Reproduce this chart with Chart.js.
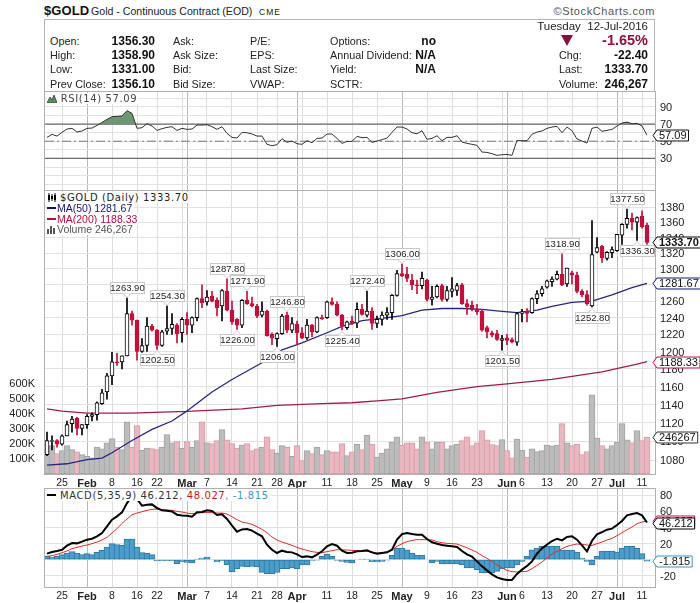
<!DOCTYPE html>
<html>
<head>
<meta charset="utf-8">
<title>$GOLD</title>
<script src="https://cdn.jsdelivr.net/npm/chart.js@4/dist/chart.umd.min.js"></script>
<style>
  html, body { margin: 0; padding: 0; background: #fff; }
  #page { position: relative; width: 700px; height: 603px; overflow: hidden; font-family: "Liberation Sans", Arial, sans-serif; color: #222; }
  canvas { position: absolute; left: 0; }
  .t { position: absolute; white-space: nowrap; font-size: 10.8px; line-height: 14px; z-index: 3; }
  .b { font-weight: bold; font-size: 12px; color: #111; }
  .r { text-align: right; }
  #box { position: absolute; left: 44px; top: 19px; width: 611px; height: 72px; border: 1px solid #b5b5b5; border-bottom: none; box-sizing: border-box; }
  .lg { position: absolute; white-space: nowrap; font: 10px/11px "DejaVu Sans", sans-serif; letter-spacing: .6px; background: #fff; z-index: 3; color: #333; }
  .nar { font: 10.5px/11px "Liberation Sans", Arial, sans-serif; letter-spacing: 0; }
  .dash { display: inline-block; width: 9px; height: 2px; margin-right: 1px; vertical-align: 3px; }
</style>
</head>
<body>
<div id="page">
  <div class="t" style="left:44px;top:3px;font-size:13px;font-weight:bold;line-height:15px;letter-spacing:.1px;color:#111">$GOLD</div>
  <div class="t" style="left:91px;top:4px;font-size:10.6px">Gold - Continuous Contract (EOD)</div>
  <div class="t" style="left:259px;top:5px;font-size:8.5px;letter-spacing:1px">CME</div>
  <div class="t" style="right:45px;top:4px;letter-spacing:.6px;color:#555;font-size:11px">&copy;StockCharts.com</div>
  <div id="box"></div>
  <div id="head"></div>

  <canvas id="rsi" width="700" height="115" style="top:80px"></canvas>
  <canvas id="price" width="700" height="320" style="top:180px"></canvas>
  <canvas id="macd" width="700" height="123" style="top:480px"></canvas>

  <div class="lg" style="left:47px;top:93px;padding-right:2px;color:#444"><svg width="10" height="9" style="vertical-align:-1px"><path d="M0 9 L3 3 L5 6 L7 1 L10 9 Z" fill="#5f8a62" stroke="#3c5a3e"/></svg> RSI(14) 57.09</div>
  <div class="lg" style="left:47px;top:192px;padding-right:2px;color:#222"><svg width="10" height="9" style="vertical-align:-1px;margin-right:3px"><path d="M2 0V9M5 1V8M8 0V9" stroke="#000"/><path d="M1 2h2v5H1zM4 3h2v3H4zM7 2h2v5H7z" fill="#000"/></svg>$GOLD (Daily) 1333.70</div>
  <div class="lg nar" style="left:47px;top:203px;padding-right:2px;color:#14146e"><span class="dash" style="background:#14146e"></span>MA(50) 1281.67</div>
  <div class="lg nar" style="left:47px;top:214px;padding-right:2px;color:#b0103c"><span class="dash" style="background:#b0103c"></span>MA(200) 1188.33</div>
  <div class="lg nar" style="left:47px;top:224px;padding-right:2px;color:#555"><svg width="9" height="9" style="vertical-align:-1px;margin-right:1px"><path d="M0 9V4h2v5zM3 9V1h2v8zM6 9V3h2v6z" fill="#555"/></svg>Volume 246,267</div>
  <div class="lg" style="left:47px;top:490px;padding-right:2px"><span class="dash" style="background:#000;margin-right:4px"></span>MACD(5,35,9) 46.212<span style="color:#c8161d">, 48.027</span><span style="color:#3f93bd">, -1.815</span></div>
</div>

<script>
// bars are trading days, Jan 20 .. Jul 12 2016
const opens = [
  1086,1100,1101,1097,1106,1119,1125,1114,1118,1127,
  1129,1141,1154,1172,1188,1188,1195,1245,1237,1200,
  1207,1230,1225,1207,1224,1227,1231,1222,1238,1231,
  1240,1263,1259,1266,1261,1254,1272,1249,1238,1231,
  1261,1257,1254,1243,1248,1220,1215,1221,1243,1225,
  1232,1222,1216,1231,1223,1240,1240,1259,1256,1243,
  1228,1236,1233.5,1250,1243,1248,1233,1238,1243,1246,
  1267,1294,1293,1286,1280,1279,1286,1262,1265,1279,
  1262,1272,1273,1280,1257,1255,1250,1248,1228,1222,
  1221,1213,1216,1214,1211,1245,1248,1246,1263,1269,
  1277,1284,1287,1293,1281,1295,1292,1272,1268,1254,
  1321,1329,1313,1320.5,1323,1343,1357,1365,1360,1368,
  1356.3];
const highs = [
  1110,1106,1102,1107,1122,1127,1126,1118,1129,1131,
  1143,1157,1175,1199,1198,1195,1263.9,1248,1237,1215,
  1240,1232,1226,1225,1254.3,1245,1233,1240,1246,1241,
  1264,1280,1273,1272,1264,1274,1287.8,1260,1239,1262,
  1271.9,1265,1256,1259,1249,1222,1222,1244,1246.8,1240,
  1236,1228,1238,1232,1241,1243,1260,1264,1259,1244,
  1236,1242,1258,1256,1272.4,1252,1242,1247,1252,1268,
  1298,1306,1302,1293,1286,1296,1287,1278,1280,1281,
  1278,1289,1282,1282,1262,1260,1256,1250,1230,1224,
  1225,1219,1220,1216,1246,1250,1251,1264,1273,1278,
  1286,1290,1297,1318.9,1301,1297,1296,1274,1273,1362,
  1340,1330,1322,1328,1344,1358,1377.5,1372,1367,1375,
  1358.9];
const lows = [
  1085,1091,1094,1096,1106,1110,1107,1107,1114,1122,
  1123,1140,1146,1162,1184,1180,1195,1231,1190,1199,
  1200,1224,1202.5,1206,1220,1220,1210,1211,1220,1222,
  1236,1252,1255,1259,1242,1236,1248,1232,1226,1228,
  1256,1253,1240,1241,1218,1208,1206,1220,1222,1222,
  1208,1215,1214,1217,1222,1238,1239,1255,1242,1225.4,
  1226,1232,1228,1243,1241,1226,1228,1231,1238,1238,
  1266,1290,1284,1274,1269,1275,1260,1255,1264,1260,
  1260,1265,1267,1256,1244,1248,1244,1224,1216,1217,
  1213,1201.5,1208,1210,1207,1235,1235,1245,1257,1266,
  1276,1278,1286,1279,1278,1281,1270,1265,1255,1252.8,
  1320,1308,1311,1314,1322,1331,1352,1350,1336.3,1352,
  1331];
const closes = [
  1101,1101,1097,1106,1118,1124,1114,1118,1127,1129,
  1142,1153,1172,1188,1187,1195,1245,1237,1200,1207,
  1230,1225,1207,1223,1227,1232,1221,1238,1231,1240,
  1263,1258,1265,1260,1252,1273,1249,1235,1231,1261,
  1257,1254,1242,1248,1218.5,1216,1221,1242,1225,1233,
  1222,1216,1231,1223,1240,1238.5,1259,1256,1243,1230,
  1235,1233,1250,1244,1248,1233,1238,1243,1246,1267,
  1294,1291,1288,1280,1279,1288,1262,1265,1278,1262,
  1273,1275,1279,1257,1253,1250,1247,1225,1223,1219,
  1214,1215,1213,1211,1245,1247,1245,1263,1269,1275,
  1285,1287,1293,1280,1301,1292,1272,1268,1257,1318,
  1327,1314,1321,1324.5,1344,1357,1365,1360,1366,1354,
  1333.7];
const volumesK = [
  151,189,136,156,189,162,147,129,118,107,
  180,167,207,236,180,162,347,180,322,158,
  173,169,162,180,262,207,216,173,216,178,
  222,347,207,202,222,296,227,202,173,193,
  202,156,167,180,247,162,140,189,178,118,
  189,89,156,136,180,129,156,147,147,202,
  122,147,200,162,260,200,113,140,167,213,
  247,193,207,207,167,247,213,167,213,213,
  167,189,200,222,247,189,207,289,227,196,
  189,229,156,107,233,160,113,167,149,156,
  193,187,193,336,207,189,200,129,149,527,
  240,189,167,189,213,336,227,207,289,222,
  246.267];
const ma50Bars = [0,4,8,11,13,17,21,25,28,33,37,43,47,51,56,59,63,67,71,75,79,83,87,91,94,98,101,105,109,113,117,120];
const ma50 = [1075,1076.5,1080.8,1082.5,1088,1101,1113,1122,1133,1154,1168,1187,1202,1210,1222,1229.5,1236.5,1239,1242.5,1249,1251,1251,1250,1247.5,1246,1249,1253.5,1258.5,1260,1267.5,1276.5,1281.67];
const ma200Bars = [0,3,8,17,23,28,39,46,55,61,66,71,78,86,92,101,111,118,120];
const ma200 = [1135.3,1132.8,1130.6,1130.6,1131.7,1132.4,1135.3,1139,1141,1142,1144,1146.3,1153.5,1160,1163,1168,1176.5,1185.5,1188.33];
const rsiValues = [
  54.5,58,56,60.3,64.2,65,60.7,61.9,65,65.3,
  68.4,71.9,75.4,78.5,78.9,79.3,85.5,82.4,65,65.7,
  70.4,67.7,62.6,64.6,66.1,66.9,62.6,65,63.8,64.2,
  68.8,68.8,69.2,66.9,63.8,66.9,59.1,54.5,53.7,60.3,
  59.9,58.4,56,56,46.4,44.8,46,52.9,48.7,50.2,
  47.1,46.4,50.6,48.3,53.3,53.7,58.4,58.4,53.3,47.5,
  49.8,49.8,55.7,54.1,54.5,48.7,50.2,51.8,53.7,60.3,
  66.5,66.5,64.2,59.9,58.8,62.2,52.2,53.3,56.4,50.6,
  54.5,54.5,56.4,49.1,47.5,46.4,45.2,37.4,37,35.5,
  33.6,34.3,34.7,33.6,51,50.6,50.6,58,60.7,61.9,
  65,66.5,67.3,59.9,66.5,62.2,52.6,50.2,47.9,65,
  66.5,61.5,62.6,63.8,67.7,71.2,72.3,70.4,70.8,67.7,
  57.09];
const macdValues = [
  7.5,9.5,10.8,12.4,17.4,20.7,20.3,22.4,24.9,26.1,
  29,33.2,41.5,49.8,53.9,58.9,70.5,78.8,75.5,67.2,
  68.4,68.8,64.3,61.4,60.9,60.1,56,55.1,54.7,53.5,
  58.9,59.3,61.4,60.5,55.6,56.4,50.6,42.3,34.8,37.7,
  38.1,36.1,32.3,29,18.7,12.4,8.3,11.2,9.5,9.1,
  6.6,3.3,4.1,2.9,6.2,10.4,16.6,19.5,17.4,11.2,
  8.3,8.7,10.4,10.8,11.6,9.1,7.5,8.3,9.1,12.4,
  24.9,31.9,33.2,31.9,31.1,31.1,25.7,21.6,19.9,18.2,
  17.4,16.6,15.8,10.8,6.6,3.7,-2.1,-8.3,-13.3,-18.2,
  -22,-24,-25.3,-25.3,-17.8,-12.4,-7.9,-2.1,7.5,14.1,
  18.7,23.2,26.1,24,28.2,29,24.9,17.8,10.4,23.6,
  31.5,34.4,37.3,38.6,43.1,48.1,55.1,56.8,58,55.1,
  46.212];
const signalValues = [
  4.1,5,6.6,8.7,10.8,13.7,15.3,17,18.2,19.9,
  22,24.5,27.8,33.2,38.6,45.2,50.6,56,58,59.7,
  61.4,62.6,63,62.2,61.8,61.4,60.1,59.3,58,57.2,
  58,58.5,58.9,58.5,58,58,56.8,53.5,49.8,46.9,
  45.6,43.9,41,37.7,33.6,28.2,24.5,22,19.9,17.8,
  15.3,13.3,11.6,10,9.1,8.7,10,11.2,12.4,12.4,
  12,11.6,11.2,10.8,10.4,9.5,8.3,8.7,9.5,12,
  16.6,19.9,22.4,24,24.9,24.9,24.9,24.5,22.4,21.1,
  20.3,19.9,19.5,17,14.9,12,9.1,5,1.7,-2.5,
  -6.6,-10,-13.3,-14.9,-15.3,-14.9,-14.5,-11.2,-7,-2.9,
  2.1,7,10.4,13.7,16.6,18.2,19.5,19.1,18.2,17.8,
  19.9,22,24.5,26.5,29.9,33.6,37.3,40.6,44.8,46.9,
  48.027];
const histValues = [
  4.1,3.3,4.1,6.2,8.3,10,8.3,6.2,7.5,6.2,
  9.1,11.6,15.8,19.9,18.7,17.8,25.7,25.7,15.8,8.7,
  8.3,6.2,-1.7,-1.2,-1.2,-1.2,-5,-2.5,-3.3,-4.1,
  0.8,2.1,3.3,0,-2.9,-1.2,-6.2,-15.3,-11.2,-8.3,
  -9.1,-8.3,-9.1,-15.8,-17.4,-17.4,-15.8,-11.2,-11.2,-10.4,
  -11.2,-6.6,-6.6,-0.8,-0.4,4.1,7,4.1,-0.8,-2.1,
  -3.3,-4.1,0,0.8,0.8,-2.5,-2.9,-2.1,-0.4,5.4,
  14.5,14.5,12.4,8.3,5.8,5.8,0,-4.1,-2.1,-5.4,
  -5.4,-5.4,-5,-6.2,-10.4,-10.4,-12.4,-16.6,-16.6,-16.6,
  -14.5,-11.6,-10.4,-10.4,-6.2,-2.1,4.1,12.4,14.5,16.6,
  16.6,17,17,12,12,12,9.5,2.1,-2.1,-6.6,
  4.1,10.8,10.8,10.8,9.5,14.5,17,16.6,14.1,7.5,
  -1.815];

// x axis: bar index of each grid line, with its label
const monthBars = [8,28,50,71,92,114];
const gridBars = [3,8,13,18,22,27,28,32,37,42,46,50,51,56,61,66,71,76,81,86,91,92,95,100,105,110,114,115,119];
const gridLabels = {3:"25",8:"Feb",13:"8",18:"16",22:"22",28:"Mar",32:"7",37:"14",42:"21",46:"28",50:"Apr",56:"11",61:"18",66:"25",71:"May",76:"9",81:"16",86:"23",92:"Jun",95:"6",100:"13",105:"20",110:"27",114:"Jul",119:"11"};
const priceTicks = [1080,1100,1120,1140,1160,1180,1200,1220,1240,1260,1280,1300,1320,1340,1360,1380];
const volumeTicksK = [100,200,300,400,500,600];
const rsiLabels = [90,70,50,30];
const rsiGrid = [100,90,80,70,60,50,40,30,20,10,0];
const macdTicks = [80,60,40,20,0,-20];
const highLabelBars = [16,24,36,40,48,64,71,103,116];
const lowLabelBars = [22,38,46,59,91,109,118];

const xMin = -0.4, xMax = 121.6;
const FONT = '"Liberation Sans", Arial, sans-serif';
const RED = "#c0103c";
Chart.defaults.font.family = FONT;
Chart.defaults.animation = false;

const points = (bars, vals) => bars.map((b, i) => ({ x: b, y: vals[i] }));
const series = vals => vals.map((v, i) => ({ x: i, y: v }));
const isMonth = c => !!c.tick && monthBars.includes(c.tick.value);
// labels at the ends of an axis must not shrink the plot area
const noOverflow = s => { s.paddingTop = s.paddingBottom = s.paddingLeft = s.paddingRight = 0; };

// header block
const headRows = [
  ["Open:", "1356.30", "Ask:", "P/E:", "Options:", "no", "", "", 34],
  ["High:", "1358.90", "Ask Size:", "EPS:", "Annual Dividend:", "N/A", "Chg:", "-22.40", 48],
  ["Low:", "1331.00", "Bid:", "Last Size:", "Yield:", "N/A", "Last:", "1333.70", 62],
  ["Prev Close:", "1356.10", "Bid Size:", "VWAP:", "SCTR:", "", "Volume:", "246,267", 77]
];
let html = "";
const put = (x, y, txt, cls) => { html += `<div class="t ${cls || ""}" style="left:${x}px;top:${y}px">${txt}</div>`; };
const putR = (x, y, txt, cls, extra) => { html += `<div class="t r ${cls || ""}" style="right:${700 - x}px;top:${y}px;${extra || ""}">${txt}</div>`; };
headRows.forEach(r => {
  const y = r[8];
  put(50, y, r[0]);
  putR(155, y, r[1], "b");
  put(173, y, r[2]);
  put(250, y, r[3]);
  put(330, y, r[4]);
  if (r[5]) putR(436, y, r[5], "b");
  if (r[6]) { put(559, y, r[6]); putR(648, y, r[7], "b"); }
});
putR(648, 19, "Tuesday&nbsp; 12-Jul-2016", "", "font-size:11.5px");
putR(648, 33, "-1.65%", "b", "color:#8f0f3c;font-size:14.5px");
html += `<svg style="position:absolute;left:561px;top:35px;z-index:3" width="12" height="11"><path d="M0 0H12L6 11Z" fill="#8a0f38"/></svg>`;
document.getElementById("head").innerHTML = html;

// frame around each plot area
const framePlugin = {
  id: "frame",
  beforeDatasetsDraw(chart) {
    const a = chart.chartArea, c = chart.ctx;
    c.save();
    c.strokeStyle = "#b0b0b0";
    c.lineWidth = 1;
    c.strokeRect(a.left - 0.5, a.top + 0.5, a.right - a.left + 1, a.bottom - a.top);
    c.restore();
  }
};

// value tag on the right hand side
function drawTag(chart, axis, value, text, color, bold) {
  const c = chart.ctx, y = Math.round(chart.scales[axis].getPixelForValue(value)) + 0.5;
  const tip = 653, l = 657, h = 5.5;
  c.save();
  c.font = (bold ? "bold " : "") + "11px " + FONT;
  const right = l + c.measureText(text).width + 4;
  c.beginPath();
  c.moveTo(tip, y);
  c.lineTo(l, y - h);
  c.lineTo(right, y - h);
  c.lineTo(right, y + h);
  c.lineTo(l, y + h);
  c.closePath();
  c.fillStyle = "#fff";
  c.fill();
  c.strokeStyle = color;
  c.lineWidth = 1;
  c.stroke();
  c.fillStyle = "#111";
  c.textBaseline = "middle";
  c.textAlign = "left";
  c.fillText(text, l + 2, y + 0.5);
  c.restore();
}

// boxed high / low labels with a small pointer
function drawPriceLabel(chart, bar, value, above) {
  const c = chart.ctx, x = chart.scales.x.getPixelForValue(bar), y = chart.scales.y.getPixelForValue(value);
  const w = 34, h = 11, gap = 5;
  const top = Math.round(above ? y - gap - h : y + gap) + 0.5;
  const left = Math.round(x - w / 2) + 0.5;
  c.save();
  c.fillStyle = "#fff";
  c.strokeStyle = "#c8c8c8";
  c.lineWidth = 1;
  c.fillRect(left, top, w, h);
  c.strokeRect(left, top, w, h);
  c.beginPath();
  const edge = above ? top + h : top;
  c.moveTo(x - 4, edge);
  c.lineTo(x, above ? edge + 4 : edge - 4);
  c.lineTo(x + 4, edge);
  c.fill();
  c.stroke();
  c.fillStyle = "#222";
  c.font = "9.5px " + FONT;
  c.textAlign = "center";
  c.textBaseline = "middle";
  c.fillText(value.toFixed(2), left + w / 2, top + h / 2 + 0.5);
  c.restore();
}

const xAxis = (height, showLabels) => ({
  type: "linear",
  min: xMin,
  max: xMax,
  offset: false,
  afterBuildTicks(s) { s.ticks = gridBars.map(v => ({ value: v })); },
  afterFit(s) { s.height = height; noOverflow(s); },
  border: { display: false },
  grid: {
    offset: false,
    drawTicks: false,
    color: c => isMonth(c) ? "#b8b8b8" : "#dedede"
  },
  ticks: {
    display: showLabels,
    autoSkip: false,
    maxRotation: 0,
    padding: 3,
    color: "#222",
    font: c => isMonth(c) ? { size: 11, weight: "bold" } : { size: 10.5 },
    callback: v => gridLabels[v] || ""
  }
});
const rightAxis = (min, max, list, labelFn) => ({
  position: "right",
  min: min,
  max: max,
  afterBuildTicks(s) { s.ticks = list.map(v => ({ value: v })); },
  afterFit(s) { s.width = 45; noOverflow(s); },
  border: { display: false },
  grid: { drawTicks: false, color: "#e2e2e2" },
  ticks: { autoSkip: false, padding: 5, labelOffset: 1, color: "#222", font: { size: 11 }, callback: labelFn }
});
const baseOptions = (padding, scales) => ({
  responsive: false,
  layout: { padding: padding },
  plugins: { legend: { display: false }, tooltip: { enabled: false } },
  events: [],
  scales: scales
});
const levelLine = (y, color, width, dash) => ({
  type: "line",
  data: [{ x: xMin, y: y }, { x: xMax, y: y }],
  borderColor: color,
  borderWidth: width,
  borderDash: dash || [],
  pointRadius: 0,
  order: 5
});
const lineSet = (data, color, width, order) => ({
  type: "line",
  data: data,
  borderColor: color,
  borderWidth: width,
  pointRadius: 0,
  tension: 0,
  fill: false,
  order: order
});

// RSI panel
new Chart(document.getElementById("rsi"), {
  type: "line",
  data: {
    datasets: [
      Object.assign(lineSet(series(rsiValues), "#333", 1, 1), {
        fill: { target: { value: 70 }, above: "#6f9673", below: "rgba(0,0,0,0)" }
      }),
      levelLine(70, "#6a6a6a", 1.2),
      levelLine(30, "#6a6a6a", 1.2),
      levelLine(50, "#777", 1, [9, 3, 2, 3])
    ]
  },
  options: baseOptions({ left: 45, top: 11, bottom: 5 }, {
    x: xAxis(0, false),
    y: rightAxis(-6.7, 108.4, rsiGrid, v => rsiLabels.includes(v) ? String(v) : "")
  }),
  plugins: [framePlugin, {
    id: "rsiTags",
    afterDraw(chart) { drawTag(chart, "y", 57.09, "57.09", "#111", false); }
  }]
});

// price panel with volume overlay
const isDown = i => closes[i] < opens[i];
new Chart(document.getElementById("price"), {
  type: "bar",
  data: {
    datasets: [
      {
        data: opens.map((o, i) => ({ x: i, y: [o, closes[i]] })),
        yAxisID: "y",
        grouped: false,
        barThickness: 4,
        borderWidth: 1,
        borderSkipped: false,
        backgroundColor: opens.map((o, i) => isDown(i) ? RED : "#fff"),
        borderColor: opens.map((o, i) => isDown(i) ? RED : "#000"),
        order: 1
      },
      {
        data: lows.map((l, i) => ({ x: i, y: [l, highs[i]] })),
        yAxisID: "y",
        grouped: false,
        barThickness: 1,
        borderWidth: 0,
        backgroundColor: opens.map((o, i) => isDown(i) ? RED : "#000"),
        order: 2
      },
      Object.assign(lineSet(points(ma50Bars, ma50), "#27277f", 1.3, 3), { yAxisID: "y" }),
      Object.assign(lineSet(points(ma200Bars, ma200), "#a01e46", 1.3, 3), { yAxisID: "y" }),
      {
        data: series(volumesK),
        yAxisID: "vol",
        grouped: false,
        barThickness: 6,
        borderWidth: 1,
        borderSkipped: false,
        backgroundColor: opens.map((o, i) => isDown(i) ? "#e8b8c0" : "#bcbcbc"),
        borderColor: opens.map((o, i) => isDown(i) ? "#d89aa8" : "#a2a2a2"),
        order: 4
      }
    ]
  },
  options: baseOptions({ top: 10 }, {
    x: xAxis(26, true),
    y: Object.assign(rightAxis(1065.9, 1403, priceTicks, v => String(v)), { type: "logarithmic" }),
    vol: {
      position: "left",
      min: 0,
      max: 1893,
      afterBuildTicks(s) { s.ticks = volumeTicksK.map(v => ({ value: v })); },
      afterFit(s) { s.width = 45; noOverflow(s); },
      border: { display: false },
      grid: { display: false },
      ticks: { autoSkip: false, padding: 2, color: "#222", font: { size: 11 }, callback: v => v + "K" }
    }
  }),
  plugins: [framePlugin, {
    id: "priceLabels",
    afterDraw(chart) {
      highLabelBars.forEach(b => drawPriceLabel(chart, b, highs[b], true));
      lowLabelBars.forEach(b => drawPriceLabel(chart, b, lows[b], false));
      drawTag(chart, "y", ma200[ma200.length - 1], "1188.33", RED, false);
      drawTag(chart, "y", ma50[ma50.length - 1], "1281.67", "#14146e", false);
      drawTag(chart, "y", closes[closes.length - 1], "1333.70", "#000", true);
      drawTag(chart, "vol", volumesK[volumesK.length - 1], "246267", "#333", false);
    }
  }]
});

// MACD panel
new Chart(document.getElementById("macd"), {
  type: "bar",
  data: {
    datasets: [
      lineSet(series(macdValues), "#000", 2, 1),
      lineSet(series(signalValues), "#d9332b", 1, 2),
      {
        data: series(histValues),
        grouped: false,
        barThickness: 6,
        borderWidth: 1,
        borderSkipped: false,
        backgroundColor: "#4c9dc9",
        borderColor: "#2d7aa5",
        order: 3
      }
    ]
  },
  options: baseOptions({ left: 45, top: 8 }, {
    x: xAxis(16, true),
    y: rightAxis(-34, 89.2, macdTicks, v => String(v))
  }),
  plugins: [framePlugin, {
    id: "macdTags",
    afterDraw(chart) {
      drawTag(chart, "y", 48.027, "48.027", RED, false);
      drawTag(chart, "y", 46.212, "46.212", "#000", false);
      drawTag(chart, "y", -1.815, "-1.815", "#3f93bd", false);
    }
  }]
});
</script>
</body>
</html>
